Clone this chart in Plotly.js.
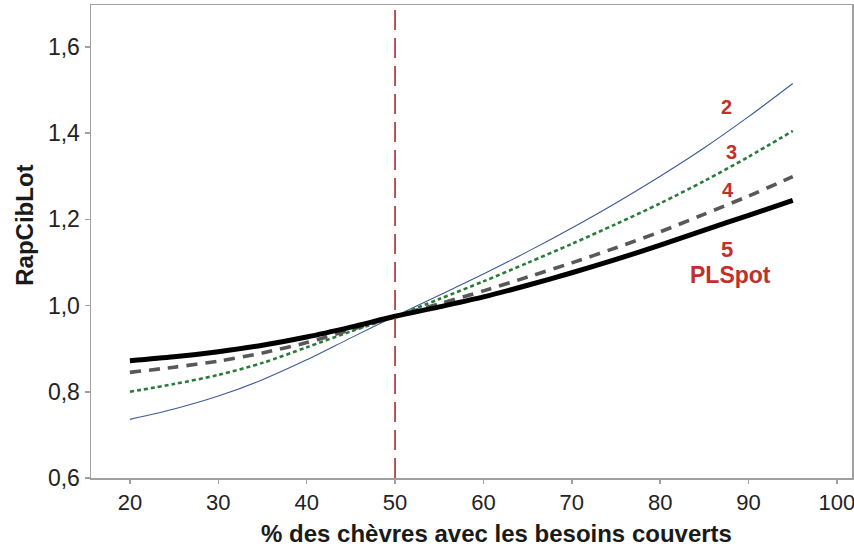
<!DOCTYPE html>
<html>
<head>
<meta charset="utf-8">
<script src="https://cdn.plot.ly/plotly-3.0.1.min.js"></script>
<style>
  html, body { margin: 0; padding: 0; background: #ffffff; }
  #chart { width: 854px; height: 551px; }
</style>
</head>
<body>
<div id="chart"></div>
<script>
// ---- data ----
const xValues = [20, 25, 30, 35, 40, 45, 50, 55, 60, 65, 70, 75, 80, 85, 90, 95];
const series2 = [0.736, 0.760, 0.790, 0.828, 0.874, 0.925, 0.975, 1.024, 1.073, 1.125, 1.180, 1.238, 1.300, 1.366, 1.438, 1.515];
const series3 = [0.800, 0.818, 0.839, 0.867, 0.903, 0.940, 0.975, 1.015, 1.056, 1.099, 1.143, 1.189, 1.237, 1.289, 1.345, 1.405];
const series4 = [0.845, 0.857, 0.871, 0.890, 0.914, 0.944, 0.975, 1.004, 1.034, 1.066, 1.099, 1.134, 1.171, 1.212, 1.254, 1.299];
const series5 = [0.872, 0.881, 0.893, 0.908, 0.927, 0.950, 0.975, 0.997, 1.020, 1.047, 1.076, 1.107, 1.140, 1.175, 1.209, 1.244];
const seriesLabels = ["2", "3", "4", "5", "PLSpot"];
const labelX = [87.5, 88.1, 87.7, 87.6, 87.9];
const labelY = [1.461, 1.356, 1.268, 1.130, 1.071];
const refLineX = 50;
const xTickVals = [20, 30, 40, 50, 60, 70, 80, 90, 100];
const xTickText = ["20", "30", "40", "50", "60", "70", "80", "90", "100"];
const yTickVals = [0.6, 0.8, 1.0, 1.2, 1.4, 1.6];
const yTickText = ["0,6", "0,8", "1,0", "1,2", "1,4", "1,6"];
const xTitle = "% des chèvres avec les besoins couverts";
const yTitle = "RapCibLot";

const FONT = '"Liberation Sans", Arial, sans-serif';
const RED = '#c0302c';

const traces = [
  { x: xValues, y: series2, mode: 'lines', line: { color: '#3d5a96', width: 1.1, shape: 'spline', smoothing: 0.8 }, hoverinfo: 'skip' },
  { x: xValues, y: series3, mode: 'lines', line: { color: '#2a7a3a', width: 2.6, dash: '4px,3px', shape: 'spline', smoothing: 0.8 }, hoverinfo: 'skip' },
  { x: xValues, y: series4, mode: 'lines', line: { color: '#585858', width: 3.6, dash: '11px,8px', shape: 'spline', smoothing: 0.8 }, hoverinfo: 'skip' },
  { x: xValues, y: series5, mode: 'lines', line: { color: '#000000', width: 5, shape: 'spline', smoothing: 0.8 }, hoverinfo: 'skip' }
];

const labelSizes = [20, 20, 20, 22, 23];
const annotations = seriesLabels.map((t, i) => ({
  x: labelX[i], y: labelY[i], xref: 'x', yref: 'y', text: '<b>' + t + '</b>',
  showarrow: false, xanchor: 'center', yanchor: 'middle',
  font: { family: FONT, size: labelSizes[i], color: RED }
}));
annotations.push({
  x: 0.533, y: -0.117, xref: 'paper', yref: 'paper', text: '<b>' + xTitle + '</b>',
  showarrow: false, xanchor: 'center', yanchor: 'middle',
  font: { family: FONT, size: 24, color: '#1a1a1a' }
});
annotations.push({
  x: -0.087, y: 0.535, xref: 'paper', yref: 'paper', text: '<b>' + yTitle + '</b>',
  showarrow: false, xanchor: 'center', yanchor: 'middle', textangle: -90,
  font: { family: FONT, size: 24, color: '#1a1a1a' }
});

const layout = {
  width: 854, height: 551,
  margin: { l: 91, r: 2, t: 5, b: 73, pad: 0 },
  paper_bgcolor: '#ffffff', plot_bgcolor: '#ffffff',
  showlegend: false,
  font: { family: FONT, color: '#222222' },
  xaxis: {
    range: [15.6, 101.7], tickvals: xTickVals, ticktext: xTickText,
    showgrid: false, zeroline: false, showline: true, mirror: true,
    linecolor: '#a0a0a0', linewidth: 1.5, ticks: 'outside', ticklen: 4, tickwidth: 1.5,
    tickcolor: '#a0a0a0', tickfont: { family: FONT, size: 22, color: '#222222' },
    ticklabeloverflow: 'allow'
  },
  yaxis: {
    range: [0.6, 1.697], tickvals: yTickVals, ticktext: yTickText,
    showgrid: false, zeroline: false, showline: true, mirror: true,
    linecolor: '#a0a0a0', linewidth: 1.5, ticks: 'outside', ticklen: 5, tickwidth: 1.5,
    tickcolor: '#a0a0a0', tickfont: { family: FONT, size: 23, color: '#222222' },
    ticklabeloverflow: 'allow'
  },
  shapes: [{
    type: 'line', xref: 'x', yref: 'paper', x0: refLineX, x1: refLineX, y0: 0, y1: 1,
    line: { color: '#b22a2a', width: 1.6, dash: '20px,8px' }
  }],
  annotations: annotations
};

Plotly.newPlot('chart', traces, layout, { staticPlot: true, displayModeBar: false });
</script>
</body>
</html>
